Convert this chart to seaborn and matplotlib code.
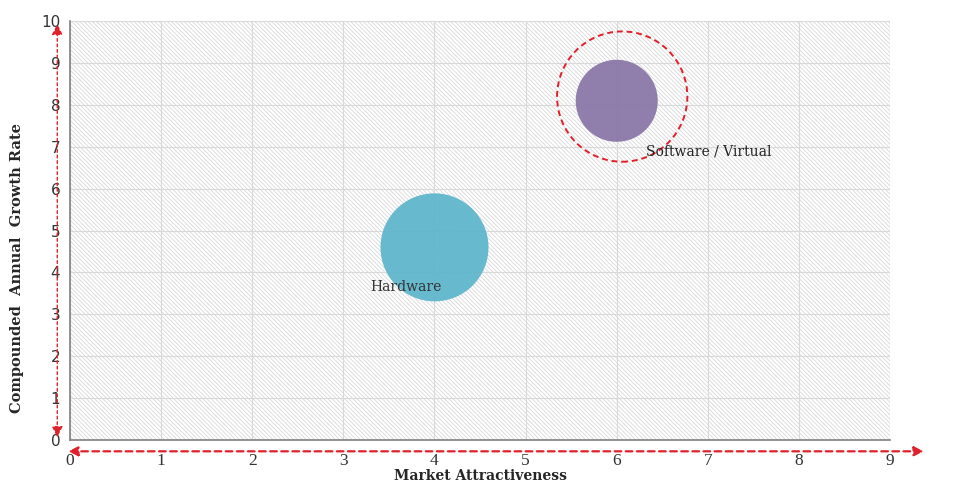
import seaborn as sns
import matplotlib.pyplot as plt
import pandas as pd

# bubble data
segments = ['Hardware', 'Software / Virtual']
attractiveness = [4.0, 6.0]
cagr = [4.6, 8.1]
bubble_sizes = [6050, 3490]
bubble_colors = ['#5DB5CC', '#8975A7']

# highlight ring around the leading segment
ring_x = [6.06]
ring_y = [8.2]

df = pd.DataFrame({'segment': segments, 'x': attractiveness, 'y': cagr})

sns.set_style('white')
plt.rcParams['hatch.linewidth'] = 0.6
fig = plt.figure(figsize=(9.54, 4.93), dpi=100)
ax = fig.add_axes([0.0734, 0.1075, 0.8596, 0.8495])

# hatched background
ax.set_facecolor('white')
ax.fill_between([0, 9], 0, 10, facecolor='white', edgecolor='#d8d8d8',
                hatch='\\' * 8, linewidth=0, zorder=0)

ax.set_xlim(0, 9)
ax.set_ylim(0, 10)
ax.set_xticks(range(0, 10))
ax.set_yticks(range(0, 11))
ax.grid(True, color='#d9d9d9', linewidth=0.8, zorder=1)
ax.set_axisbelow(True)

sns.scatterplot(data=df, x='x', y='y', hue='segment', size='segment',
                palette=dict(zip(segments, bubble_colors)),
                sizes=dict(zip(segments, bubble_sizes)),
                alpha=0.93, linewidth=0, legend=False, ax=ax, zorder=3)

ax.scatter(ring_x, ring_y, s=8800, facecolors='none', edgecolors='#e0202a',
           linestyle=(0, (3, 2)), linewidth=1.4, zorder=4)

ax.text(3.3, 3.55, 'Hardware', family='DejaVu Serif', fontsize=10,
        color='#333333', zorder=5)
ax.text(6.32, 6.8, 'Software / Virtual', family='DejaVu Serif', fontsize=10,
        color='#222222', zorder=5)

for side in ['top', 'right']:
    ax.spines[side].set_visible(False)
for side in ['left', 'bottom']:
    ax.spines[side].set_color('#808080')
    ax.spines[side].set_linewidth(1.2)

ax.tick_params(axis='y', direction='inout', length=6, color='#808080',
               labelsize=11, pad=4)
ax.tick_params(axis='x', direction='out', length=5, color='#808080',
               labelsize=12.5, pad=4)
for lab in ax.get_yticklabels():
    lab.set_family('DejaVu Sans')
    lab.set_color('#333333')
for lab in ax.get_xticklabels():
    lab.set_family('Liberation Serif')
    lab.set_color('#333333')

ax.set_xlabel('Market Attractiveness', family='DejaVu Serif', fontsize=10,
              fontweight='bold', labelpad=0)
ax.set_ylabel('Compounded  Annual  Growth Rate', family='DejaVu Serif',
              fontsize=10.5, fontweight='heavy')
ax.yaxis.set_label_coords(-0.056, 0.41)

# red dashed double arrows along the axes
ax.annotate('', xy=(-0.14, 10.0), xytext=(-0.14, 0.0), xycoords='data',
            arrowprops=dict(arrowstyle='<|-|>', color='#e0202a', lw=1,
                            linestyle=(0, (2, 2)), mutation_scale=16),
            annotation_clip=False)
ax.annotate('', xy=(-0.05, -0.27), xytext=(9.4, -0.27), xycoords='data',
            arrowprops=dict(arrowstyle='<|-|>', color='#e0202a', lw=1.6,
                            linestyle=(0, (3, 2)), mutation_scale=14),
            annotation_clip=False)

fig.savefig('out.png', dpi=100)
